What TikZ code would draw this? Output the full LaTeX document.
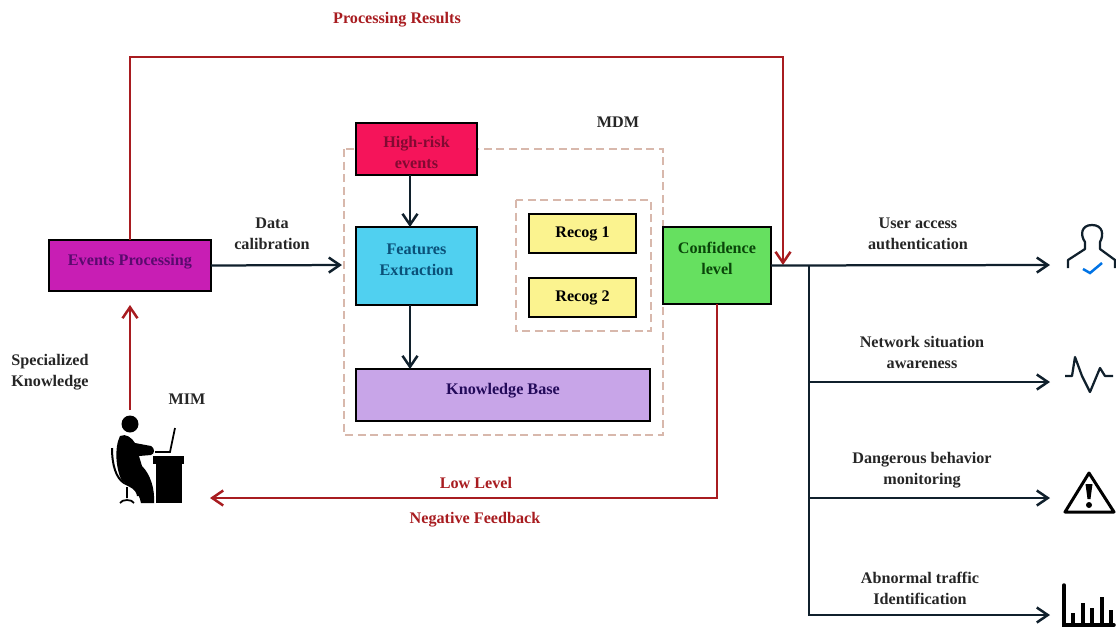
\documentclass[tikz,border=0pt]{standalone}
\usepackage{fontspec}
\setmainfont{Liberation Serif}
\usetikzlibrary{arrows.meta}
\definecolor{redline}{HTML}{A81C20}
\definecolor{darkline}{HTML}{10202C}
\definecolor{dashtan}{HTML}{D8B8AC}
\tikzset{
  >={Straight Barb[length=2.2mm,width=3mm,line width=0.5mm]},
  box/.style={draw=black, line width=0.055cm, inner sep=0pt, outer sep=0pt, align=center,
    font=\fontsize{9.2}{12}\selectfont\bfseries},
  label/.style={inner sep=0pt, align=center, text=black!85,
    font=\fontsize{9.2}{12}\selectfont\bfseries},
  redlabel/.style={label, text=redline},
  dashbox/.style={draw=dashtan, line width=0.05cm, dash pattern=on 0.16cm off 0.09cm},
  blackline/.style={draw=darkline, line width=0.045cm},
  redarrow/.style={draw=redline, line width=0.045cm},
}
\begin{document}
\begin{tikzpicture}[x=0.02cm, y=-0.02cm]
\useasboundingbox (0,0) rectangle (1116,630);
\draw[dashbox] (344,149) rectangle (663,435);
\draw[dashbox] (516,200) rectangle (651,331);
\node[box, fill={rgb,255:red,200;green,30;blue,180}, text={rgb,255:red,90;green,10;blue,110},
  minimum width=3.24cm, minimum height=1.02cm] (events) at (130,265.5) {Events Processing\\[-1.8mm]\mbox{}};
\node[box, fill={rgb,255:red,245;green,20;blue,90}, text={rgb,255:red,130;green,10;blue,50},
  minimum width=2.42cm, minimum height=1.04cm] (highrisk) at (416.5,149) {\rule{0pt}{3.6mm}High-risk\\events};
\node[box, fill={rgb,255:red,80;green,208;blue,240}, text={rgb,255:red,10;green,80;blue,120},
  minimum width=2.42cm, minimum height=1.56cm] (features) at (416.5,266) {Features\\Extraction\\[-1.6mm]\mbox{}};
\node[box, fill={rgb,255:red,200;green,165;blue,232}, text={rgb,255:red,35;green,10;blue,90},
  minimum width=5.88cm, minimum height=1.04cm] (knowledge) at (503,395) {Knowledge Base\\[-1.6mm]\mbox{}};
\node[box, fill={rgb,255:red,251;green,243;blue,143}, minimum width=2.14cm, minimum height=0.78cm] (recogone) at (582.5,233.5) {Recog 1};
\node[box, fill={rgb,255:red,251;green,243;blue,143}, minimum width=2.14cm, minimum height=0.78cm] (recogtwo) at (582.5,297.5) {Recog 2};
\node[box, fill={rgb,255:red,102;green,224;blue,96}, text={rgb,255:red,10;green,70;blue,10},
  minimum width=2.16cm, minimum height=1.54cm] (confidence) at (717,265.5) {Confidence\\level\\[-1.4mm]\mbox{}};

\coordinate (mim) at (130,410);
\coordinate (mimtip) at (130,305);
\coordinate (fbend) at (210,498);
\coordinate (datatip) at (342,265);
\coordinate (branch) at (809,265);
\coordinate (useraccess) at (1050,265);
% red paths
\draw[redarrow,->] (mim) -- (mimtip);
\draw[redarrow,->] (events.north) |- (783,57) -- (783,265);
\draw[redarrow,->] (confidence.south) |- (fbend);
% black paths
\draw[blackline,->] (events.east) -- (datatip);
\draw[blackline,->] (410,175) -- (410,227);
\draw[blackline,->] (410,305) -- (410,369);
\draw[blackline,->] (confidence.east) -- (useraccess);
\foreach \y in {382,498,615}{
\draw[blackline,->] (branch) |- (1050,\y);
}

\node[redlabel] (results) at (397,19.5) {Processing Results};
\node[label] (mdm) at (618,122) {MDM};
\node[label] (calibration) at (272,233.5) {Data\\calibration};
\node[label, align=left] (specialized) at (50,372) {Specialized\\Knowledge};
\node[label] (mimtext) at (187,399) {MIM};
\node[redlabel] (low) at (476,483) {Low Level};
\node[redlabel] (negative) at (475,519.5) {Negative Feedback};
\node[label] (authentication) at (918,234) {User access\\authentication};
\node[label] (awareness) at (922,352.5) {Network situation\\awareness};
\node[label] (monitoring) at (922,470) {Dangerous behavior\\monitoring};
\node[label] (identification) at (920,588.5) {Abnormal traffic\\Identification};

% person at desk
\fill[black] (130,424) circle (8.5);
\fill[black] (120,436) .. controls (126,433) and (132,438) .. (135,443) -- (151,446)
  .. controls (155,448) and (155,454) .. (151,455) -- (139,456) -- (142,466)
  .. controls (150,474) and (155,488) .. (154,503) -- (141,503)
  .. controls (139,492) and (132,486) .. (122,481) .. controls (116,470) and (114,448) .. (120,436) -- cycle;
\draw[black, line width=0.04cm] (112,448) .. controls (112,465) and (116,478) .. (124,483)
  .. controls (130,486) and (137,488) .. (138,496);
\draw[black, line width=0.035cm] (127,487) -- (127,498) (120,503) .. controls (122,499) and (132,499) .. (134,503);
\fill[black] (153,456) rectangle (184,464);
\fill[black] (156,464) rectangle (182,503);
\draw[black, line width=0.035cm] (175,428) -- (170,452) -- (155,452);

% user icon
\draw[darkline, line width=0.045cm, line join=round] (1068,268) -- (1068,260) -- (1085,249) -- (1085,242)
  .. controls (1080,235) and (1081,225) .. (1092,225)
  .. controls (1103,225) and (1104,235) .. (1100,242) -- (1100,249) -- (1115,260) -- (1115,268);
\draw[blue!50!cyan!90!black, line width=0.05cm] (1083,269) -- (1090,273) -- (1102,263);
% pulse icon
\draw[darkline, line width=0.045cm, line join=round] (1065,376) -- (1072,376) -- (1075,357) -- (1082,376)
  -- (1090,392) -- (1100,368) -- (1105,376) -- (1113,376);
% warning icon
\draw[black, line width=0.06cm, line join=round] (1089,473) -- (1114,512) -- (1065,512) -- cycle;
\fill[black] (1085.5,484) -- (1092.5,484) -- (1090.5,499) -- (1087.5,499) -- cycle;
\fill[black] (1089,505) circle (3);
% bars icon
\draw[black, line width=0.07cm, line cap=round] (1064,585) -- (1064,625) -- (1114,625);
\foreach \x/\top in {1073/613,1083/603,1092/608,1102/597,1111/610}{
\draw[black, line width=0.09cm] (\x,\top) -- (\x,624);
}
\end{tikzpicture}
\end{document}
